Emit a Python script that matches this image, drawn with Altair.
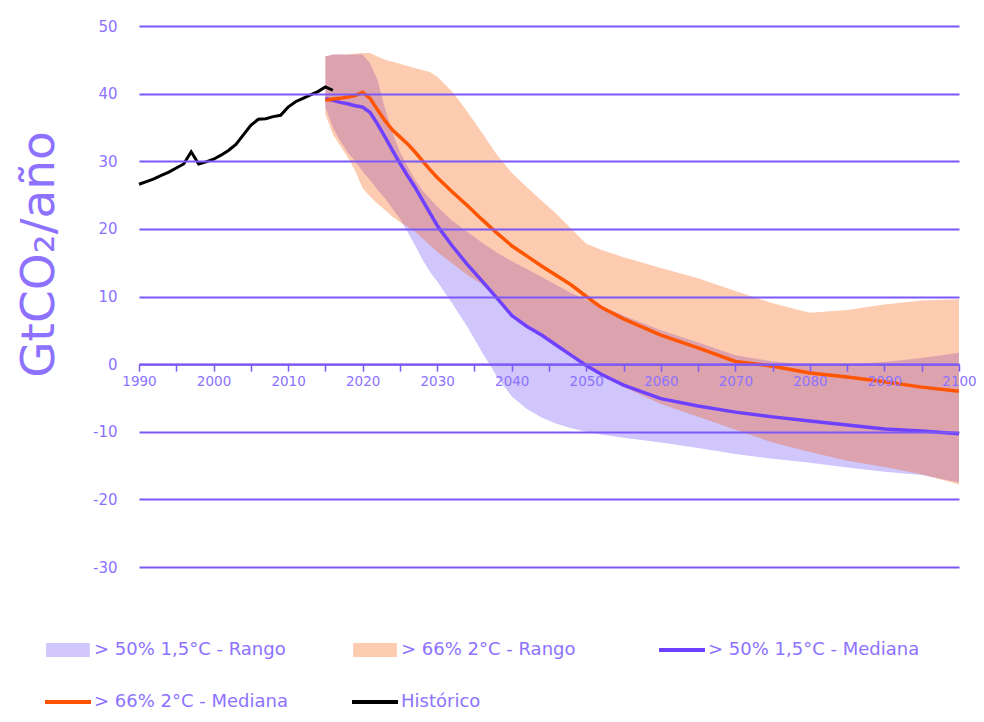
import altair as alt
import pandas as pd

# ---------------- data ----------------
hist_years = list(range(1990, 2017))
hist_vals = [26.6, 27.0, 27.4, 27.9, 28.4, 29.0, 29.6, 31.4, 29.6, 29.9, 30.3,
             30.9, 31.6, 32.5, 33.9, 35.3, 36.2, 36.3, 36.6, 36.8, 38.0, 38.8,
             39.3, 39.8, 40.3, 41.0, 40.5]

proj_years = [2015, 2016, 2017, 2018, 2019, 2020, 2021, 2022, 2023, 2024, 2025,
              2026, 2027, 2028, 2029, 2030, 2032, 2034, 2036, 2038, 2040, 2042,
              2044, 2046, 2048, 2050, 2052, 2055, 2060, 2065, 2070, 2075, 2080,
              2085, 2090, 2095, 2100]

med15 = [39.3, 39.0, 38.7, 38.5, 38.2, 38.0, 37.2, 35.5, 33.6, 31.6, 29.7,
         27.9, 26.2, 24.3, 22.4, 20.5, 17.5, 14.8, 12.3, 9.8, 7.2, 5.6,
         4.3, 2.8, 1.3, -0.2, -1.5, -3.1, -5.1, -6.2, -7.1, -7.8, -8.4,
         -9.0, -9.6, -9.9, -10.3]

med2 = [39.0, 39.2, 39.3, 39.5, 39.7, 40.2, 39.3, 37.6, 36.0, 34.6, 33.6,
        32.6, 31.4, 30.1, 28.8, 27.6, 25.5, 23.5, 21.4, 19.4, 17.5, 16.0,
        14.5, 13.1, 11.7, 10.0, 8.4, 6.7, 4.3, 2.4, 0.4, -0.3, -1.3,
        -1.9, -2.6, -3.4, -4.0]

hi15 = [45.5, 45.8, 45.8, 45.8, 45.8, 45.8, 44.5, 42.0, 37.8, 34.2, 31.4,
        29.3, 27.3, 25.7, 24.5, 23.3, 21.2, 19.6, 18.0, 16.5, 15.2, 14.1,
        12.9, 11.7, 10.5, 9.5, 8.6, 7.2, 5.0, 3.2, 1.3, 0.4, -0.1,
        0.0, 0.3, 0.9, 1.7]

lo15 = [38.0, 35.0, 33.0, 31.3, 30.0, 28.5, 27.2, 25.8, 24.5, 23.0, 21.5,
        19.6, 17.6, 15.5, 13.7, 12.2, 9.0, 5.6, 1.8, -1.8, -4.8, -6.6,
        -7.9, -8.8, -9.5, -10.0, -10.4, -10.9, -11.6, -12.4, -13.3, -14.0, -14.6,
        -15.3, -15.9, -16.4, -17.5]

hi2 = [45.5, 45.8, 45.8, 45.8, 45.9, 46.0, 46.0, 45.5, 45.0, 44.7, 44.4,
       44.1, 43.8, 43.5, 43.2, 42.5, 40.3, 37.4, 34.2, 31.0, 28.3, 26.2,
       24.2, 22.2, 20.0, 17.8, 16.9, 15.8, 14.2, 12.7, 10.8, 9.0, 7.6,
       8.0, 8.8, 9.4, 9.6]

lo2 = [37.0, 34.0, 32.3, 30.6, 28.6, 26.0, 24.8, 23.7, 22.8, 21.8, 21.0,
       20.3, 19.6, 18.6, 17.6, 16.6, 14.9, 13.2, 11.8, 9.9, 7.6, 5.9,
       4.5, 3.0, 1.5, 0.0, -1.4, -3.4, -5.9, -7.8, -9.7, -11.6, -13.0,
       -14.3, -15.2, -16.3, -17.8]

series_names = ["> 50% 1,5°C - Rango", "> 66% 2°C - Rango",
                "> 50% 1,5°C - Mediana", "> 66% 2°C - Mediana", "Histórico"]
series_colors = ["#6648f5", "#f85700", "#7040ff", "#ff5500", "#000000"]

y_ticks = list(range(-30, 51, 10))
x_ticks = list(range(1990, 2101, 5))

# ---------------- tables ----------------
area15 = pd.DataFrame({"year": proj_years, "lo": lo15, "hi": hi15, "serie": series_names[0]})
area2 = pd.DataFrame({"year": proj_years, "lo": lo2, "hi": hi2, "serie": series_names[1]})
line15 = pd.DataFrame({"year": proj_years, "value": med15, "serie": series_names[2]})
line2 = pd.DataFrame({"year": proj_years, "value": med2, "serie": series_names[3]})
lineh = pd.DataFrame({"year": hist_years, "value": hist_vals, "serie": series_names[4]})

W, H = 820, 541
PURPLE_TXT = "#8d72ff"
GRID = "#7b58f7"
FONT = "DejaVu Sans"

xscale = alt.Scale(domain=[1990, 2100], nice=False, zero=False)
yscale = alt.Scale(domain=[-30, 50], nice=False, zero=False)
cscale = alt.Scale(domain=series_names, range=series_colors)

xaxis = alt.Axis(values=x_ticks, format="d",
                 labelExpr="datum.value % 10 == 0 ? datum.label : ''",
                 grid=False, domainColor=GRID, domainWidth=2,
                 tickColor=GRID, tickWidth=1.5, tickSize=7,
                 offset=-(H * 30 / 80), labelPadding=3, title=None,
                 labelFont=FONT, labelFontSize=13.5, labelColor=PURPLE_TXT,
                 labelOverlap=False, labelFlush=False, zindex=1)

yaxis = alt.Axis(values=y_ticks, grid=True, gridColor=GRID, gridWidth=2,
                 domain=False, ticks=False, labelPadding=22,
                 labelExpr="'' + datum.value",
                 labelFont=FONT, labelFontSize=15, labelColor=PURPLE_TXT,
                 title="GtCO₂/año", titleFont=FONT, titleFontSize=47,
                 titleFontWeight="normal", titleColor=PURPLE_TXT,
                 titleX=-100, titleY=228, titleAngle=270,
                 titleAlign="center", titleBaseline="middle", zindex=1)

legend = alt.Legend(
    title=None, orient="none", legendX=-94, legendY=601,
    direction="horizontal", columns=3, gridAlign="all",
    columnPadding=46, rowPadding=20,
    symbolType={"expr": "indexof(datum.label, 'Rango') >= 0 ? 'M-0.95,-0.3H0.95V0.3H-0.95Z' : 'M-1,-0.085H1V0.085H-1Z'"},
    symbolOpacity={"expr": "indexof(datum.label, 'Rango') >= 0 ? 0.31 : 1"},
    symbolSize=2116, symbolStrokeWidth=0,
    labelFont=FONT, labelFontSize=18, labelColor=PURPLE_TXT,
    labelLimit=0, labelOffset=3,
)

X = alt.X("year:Q", scale=xscale, axis=xaxis)

a15 = alt.Chart(area15).mark_area(fillOpacity=0.31).encode(
    x=X,
    y=alt.Y("lo:Q", scale=yscale, axis=yaxis),
    y2="hi:Q",
    color=alt.Color("serie:N", scale=cscale, legend=legend),
)
a2 = alt.Chart(area2).mark_area(fillOpacity=0.31).encode(
    x=X,
    y=alt.Y("lo:Q", scale=yscale, axis=yaxis),
    y2="hi:Q",
    color=alt.Color("serie:N", scale=cscale, legend=None),
)

def line_layer(df, width):
    return alt.Chart(df).mark_line(strokeWidth=width).encode(
        x=X,
        y=alt.Y("value:Q", scale=yscale, axis=yaxis),
        color=alt.Color("serie:N", scale=cscale, legend=None),
    )

chart = alt.layer(a15, a2, line_layer(line15, 3.5), line_layer(line2, 3.5),
                  line_layer(lineh, 3)).properties(
    width=W, height=H,
    autosize=alt.AutoSizeParams(type="none"),
    padding={"left": 131, "top": 18, "right": 17, "bottom": 146},
).configure_view(stroke=None)

chart.save("out.html", embed_options={"renderer": "svg", "actions": False})
